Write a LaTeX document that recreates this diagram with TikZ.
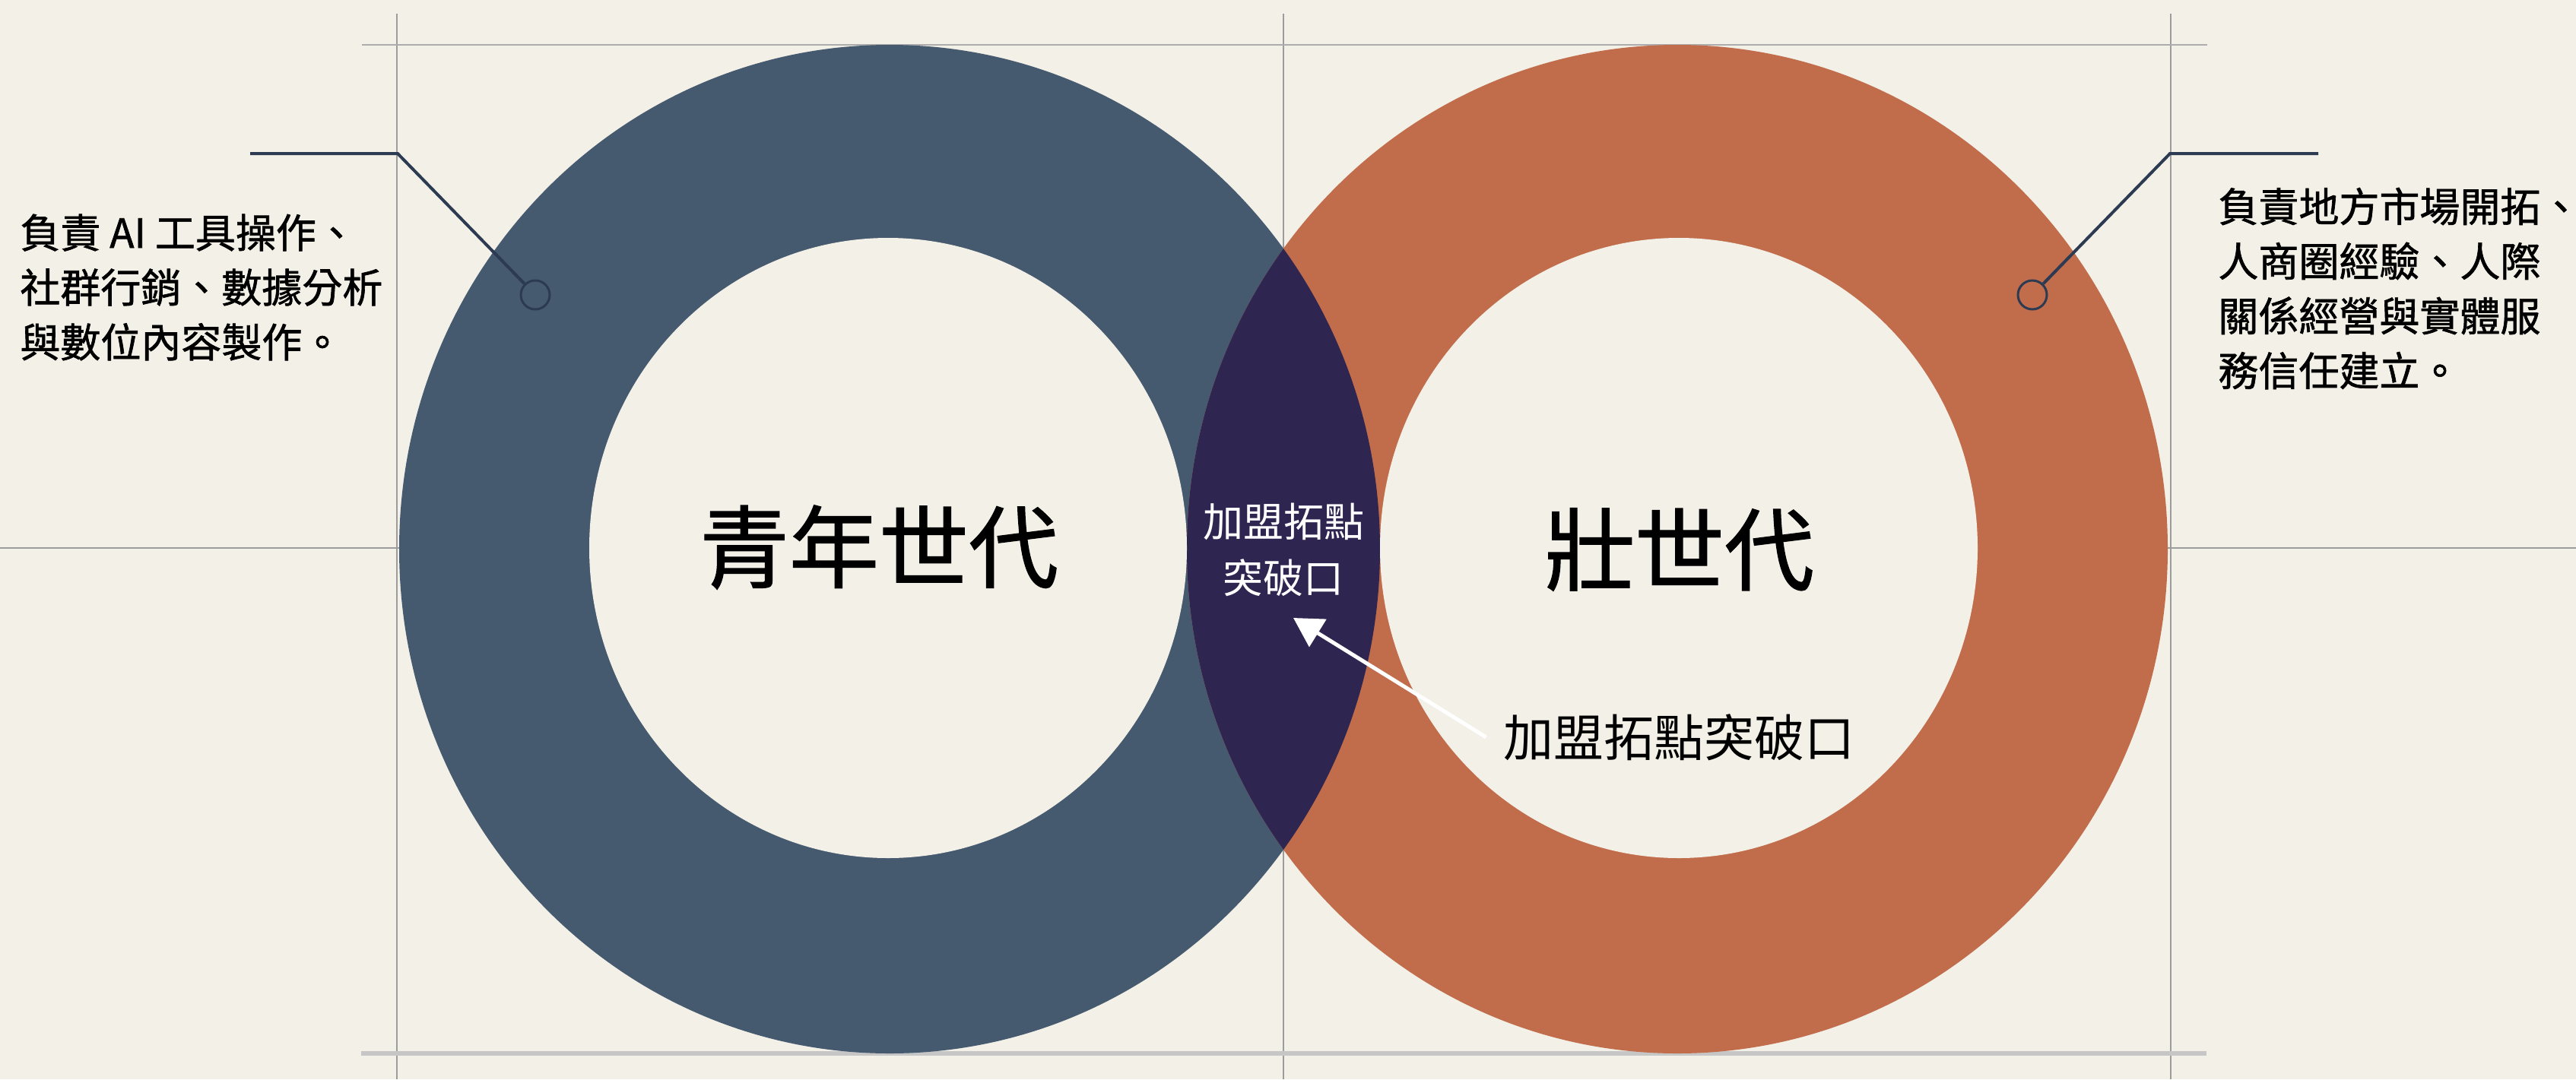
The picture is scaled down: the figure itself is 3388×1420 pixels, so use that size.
\documentclass[tikz,border=0pt]{standalone}
\usepackage{fontspec}
\setmainfont{Noto Sans CJK TC}
\newfontfamily\descfont[FakeBold=1.2]{Noto Sans CJK TC}
\usetikzlibrary{arrows.meta}
\definecolor{bg}{HTML}{F3F0E7}
\definecolor{ringblue}{HTML}{465A6F}
\definecolor{ringorange}{HTML}{C16D4C}
\definecolor{lensdark}{HTML}{2E2550}
\definecolor{leadnavy}{HTML}{2C3A52}
\definecolor{gridgray}{HTML}{9C9C9C}
\definecolor{gridlight}{HTML}{C6C6C6}
\tikzset{
  gridline/.style={draw=gridgray, line width=1.3pt},
  leader/.style={draw=leadnavy, line width=2pt},
  marker/.style={circle, draw=leadnavy, line width=1.5pt, minimum size=19pt, inner sep=0pt},
  desc/.style={align=left, inner sep=0pt, text=black, font=\descfont\fontsize{26.5pt}{36pt}\selectfont},
  title/.style={inner sep=0pt, text=black, font=\descfont\fontsize{59pt}{70pt}\selectfont},
  lenstxt/.style={align=center, inner sep=0pt, text=white, font=\fontsize{26.5pt}{37pt}\selectfont},
  lbltxt/.style={inner ysep=0pt, inner xsep=11pt, text=black, font=\fontsize{33pt}{40pt}\selectfont},
  whitearrow/.style={draw=white, line width=2.5pt, -{Triangle[length=19pt,width=21pt]}}
}
\begin{document}
\begin{tikzpicture}[x=0.5pt,y=-0.5pt]
\fill[bg] (0,0) rectangle (3388,1420);
\useasboundingbox (0,0) rectangle (3388,1420);
% grid lines
\draw[gridline] (522,18) -- (522,1420);
\draw[gridline] (1688,18) -- (1688,1420);
\draw[gridline] (2855,18) -- (2855,1420);
\draw[gridline, draw=gridgray!110!black] (476,59) -- (2903,59);
\draw[gridline] (0,721) -- (3388,721);
\draw[draw=gridlight, line width=3pt] (475,1386) -- (2902,1386);
% rings
\fill[ringblue] (1170,722.5) ellipse [x radius=322.5pt, y radius=331.75pt];
\fill[ringorange] (2206,722.5) ellipse [x radius=322.5pt, y radius=331.75pt];
\begin{scope}
  \clip (1170,722.5) ellipse [x radius=322.5pt, y radius=331.75pt];
  \fill[lensdark] (2206,722.5) ellipse [x radius=322.5pt, y radius=331.75pt];
\end{scope}
\fill[bg] (1168,721) ellipse [x radius=196.5pt, y radius=204pt];
\fill[bg] (2208,721) ellipse [x radius=196.5pt, y radius=204pt];
% titles
\node[title] (young) at (1156,720) {青年世代};
\node[title] (prime) at (2209,723) {壯世代};
\node[lenstxt] (lens) at (1688,723) {加盟拓點\\突破口};
\node[lbltxt] (lbl) at (2208,970) {加盟拓點突破口};
\coordinate (tip) at (1701,813);
\draw[whitearrow] (lbl.west) -- (tip);
% left annotation
\node[desc, anchor=west] (ldesc) at (26,378) {負責 AI 工具操作、\\社群行銷、數據分析\\與數位內容製作。};
\node[marker] (lmark) at (704,388) {};
\coordinate (lend) at (329,202);
\coordinate (lknee) at (523,202);
\draw[leader] (lend) -- (lknee) -- (lmark);
% right annotation
\node[desc, anchor=west] (rdesc) at (2917,379.5) {負責地方市場開拓、\\人商圈經驗、人際\\關係經營與實體服\\務信任建立。};
\node[marker] (rmark) at (2673,388) {};
\coordinate (rend) at (3049,202);
\coordinate (rknee) at (2854,202);
\draw[leader] (rend) -- (rknee) -- (rmark);
\end{tikzpicture}
\end{document}
